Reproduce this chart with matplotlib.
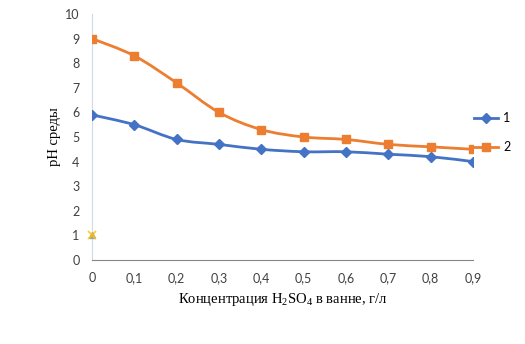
import matplotlib.pyplot as plt
import numpy as np
from matplotlib.path import Path
from matplotlib.patches import PathPatch

plt.rcParams['mathtext.default'] = 'regular'

# data
conc = [0, 0.1, 0.2, 0.3, 0.4, 0.5, 0.6, 0.7, 0.8, 0.9]
ph_1 = [5.9, 5.5, 4.9, 4.7, 4.5, 4.4, 4.4, 4.3, 4.2, 4.0]
ph_2 = [9.0, 8.3, 7.2, 6.0, 5.3, 5.0, 4.9, 4.7, 4.6, 4.5]
extra_x = [0]
extra_y = [1]
series_names = ['1', '2']
x_ticks = [0, 0.1, 0.2, 0.3, 0.4, 0.5, 0.6, 0.7, 0.8, 0.9]
y_ticks = list(range(0, 11))


def smooth_path(x, y, t=1 / 6):
    # Excel-like smoothed line as cubic bezier segments through the points
    x = np.asarray(x, float)
    y = np.asarray(y, float)
    verts = [(x[0], y[0])]
    codes = [Path.MOVETO]
    n = len(x)
    for i in range(n - 1):
        p0 = (x[max(i - 1, 0)], y[max(i - 1, 0)])
        p1 = (x[i], y[i])
        p2 = (x[i + 1], y[i + 1])
        p3 = (x[min(i + 2, n - 1)], y[min(i + 2, n - 1)])
        c1 = (p1[0] + (p2[0] - p0[0]) * t, p1[1] + (p2[1] - p0[1]) * t)
        c2 = (p2[0] - (p3[0] - p1[0]) * t, p2[1] - (p3[1] - p1[1]) * t)
        verts += [c1, c2, p2]
        codes += [Path.CURVE4] * 3
    return Path(verts, codes)


fig = plt.figure(figsize=(5.25, 3.44), dpi=100)
ax = fig.add_axes([0.1752, 0.2442, 0.7258, 0.7151])

colors = ['#4472C4', '#ED7D31']
markers = ['D', 's']
msizes = [5, 6]
for xs, ys, c, m, ms, name in zip([conc, conc], [ph_1, ph_2], colors, markers, msizes, series_names):
    ax.add_patch(PathPatch(smooth_path(xs, ys), facecolor='none', edgecolor=c, lw=2, zorder=2))
    ax.plot(xs, ys, linestyle='none', marker=m, ms=ms, color=c, zorder=3)
    # legend proxy
    ax.plot([], [], color=c, lw=2, marker=m, ms=ms, label=name)

ax.plot(extra_x, extra_y, linestyle='none', marker='^', ms=5, color='#A5A5A5', zorder=3, clip_on=False)
ax.plot(extra_x, extra_y, linestyle='none', marker='x', ms=6, mew=1.3, color='#FFC000', alpha=0.8, zorder=4, clip_on=False)

ax.set_xlim(0, 0.9)
ax.set_ylim(0, 10)
ax.set_xticks(x_ticks)
ax.set_xticklabels([('%g' % v).replace('.', ',') for v in x_ticks])
ax.set_yticks(y_ticks)
ax.tick_params(length=0, labelsize=9, colors='#404040', pad=9)
ax.tick_params(axis='x', pad=9)
for lab in ax.get_xticklabels() + ax.get_yticklabels():
    lab.set_family('Lato')

for s in ['top', 'right']:
    ax.spines[s].set_visible(False)
ax.spines['left'].set_color('#D0DAEA')
ax.spines['bottom'].set_color('#868686')

ax.set_xlabel('Концентрация H$_2$SO$_4$ в ванне, г/л', family='Liberation Serif', fontsize=10.5, labelpad=5)
ax.set_ylabel('pH среды', family='Liberation Serif', fontsize=10.5, labelpad=3)

ax.legend(loc='center left', bbox_to_anchor=(0.974, 0.518), frameon=False, prop={'family': 'Lato', 'size': 9},
          handlelength=1.9, labelspacing=1.35, handletextpad=0.4)

fig.savefig('out.png', dpi=100)
